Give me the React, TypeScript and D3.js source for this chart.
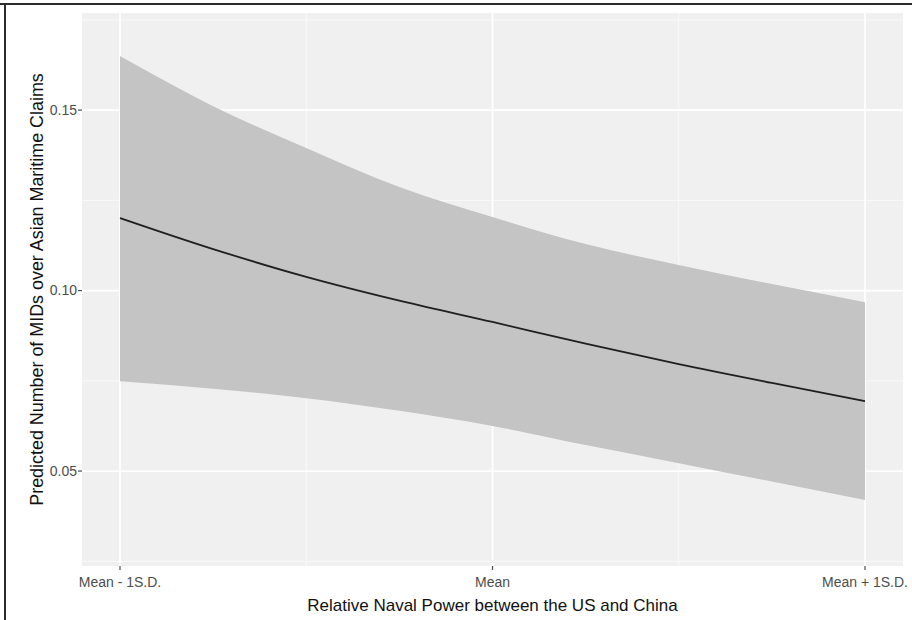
import React from "react";
import * as d3 from "d3";

// Relative naval power, in standard deviations from the mean
const xValues = [-1, -0.75, -0.5, -0.25, 0, 0.25, 0.5, 0.75, 1];
// Predicted number of MIDs and its confidence band
const fitValues = [0.1201, 0.1115, 0.1038, 0.0972, 0.0913, 0.0853, 0.0796, 0.0744, 0.0694];
const upperValues = [0.165, 0.1511, 0.1395, 0.1287, 0.1204, 0.1129, 0.1071, 0.1018, 0.0968];
const lowerValues = [0.0749, 0.0728, 0.0702, 0.0667, 0.0625, 0.0572, 0.0522, 0.0471, 0.042];

const xTickValues = [-1, 0, 1];
const xTickLabels = ["Mean - 1S.D.", "Mean", "Mean + 1S.D."];
const xMinorValues = [-0.5, 0.5];
const yTickValues = [0.05, 0.1, 0.15];
const yTickLabels = ["0.05", "0.10", "0.15"];
const yMinorValues = [0.025, 0.075, 0.125, 0.175];

const xTitle = "Relative Naval Power between the US and China";
const yTitle = "Predicted Number of MIDs over Asian Maritime Claims";

const W = 912;
const H = 620;
const panel = { left: 82, right: 903, top: 13, bottom: 566 };
const FONT = "'Liberation Sans', Arial, sans-serif";

export default function App() {
  const x = d3.scaleLinear().domain([-1.102, 1.102]).range([panel.left, panel.right]);
  const y = d3.scaleLinear().domain([0.0237, 0.1769]).range([panel.bottom, panel.top]);

  const rows = xValues.map((v, i) => ({
    x: v,
    fit: fitValues[i],
    lo: lowerValues[i],
    hi: upperValues[i],
  }));

  const band = d3
    .area<(typeof rows)[number]>()
    .x((d) => x(d.x))
    .y0((d) => y(d.lo))
    .y1((d) => y(d.hi))
    .curve(d3.curveMonotoneX);
  const line = d3
    .line<(typeof rows)[number]>()
    .x((d) => x(d.x))
    .y((d) => y(d.fit))
    .curve(d3.curveMonotoneX);

  const pw = panel.right - panel.left;
  const ph = panel.bottom - panel.top;

  return (
    <svg
      width={W}
      height={H}
      style={{ position: "absolute", left: 0, top: 0, background: "#ffffff" }}
      fontFamily={FONT}
    >
      {/* frame */}
      <line x1={0} x2={W} y1={4} y2={4} stroke="#2b2b2b" strokeWidth={2} />
      <line x1={5} x2={5} y1={3} y2={H} stroke="#2b2b2b" strokeWidth={2} />

      {/* panel */}
      <rect x={panel.left} y={panel.top} width={pw} height={ph} fill="#f0f0f0" />
      <g stroke="#fafafa">
        {yMinorValues.map((v) => (
          <line key={"ym" + v} x1={panel.left} x2={panel.right} y1={y(v)} y2={y(v)} strokeWidth={0.9} />
        ))}
        {xMinorValues.map((v) => (
          <line key={"xm" + v} x1={x(v)} x2={x(v)} y1={panel.top} y2={panel.bottom} strokeWidth={0.9} />
        ))}
      </g>
      <g stroke="#ffffff">
        {yTickValues.map((v) => (
          <line key={"yg" + v} x1={panel.left} x2={panel.right} y1={y(v)} y2={y(v)} strokeWidth={1.7} />
        ))}
        {xTickValues.map((v) => (
          <line key={"xg" + v} x1={x(v)} x2={x(v)} y1={panel.top} y2={panel.bottom} strokeWidth={1.7} />
        ))}
      </g>

      {/* confidence band and fitted line */}
      <path d={band(rows) ?? ""} fill="#c4c4c4" />
      <path d={line(rows) ?? ""} fill="none" stroke="#1f1f1f" strokeWidth={1.8} />

      {/* y axis */}
      {yTickValues.map((v, i) => (
        <g key={"yt" + v}>
          <line x1={panel.left - 4} x2={panel.left} y1={y(v)} y2={y(v)} stroke="#4d4d4d" strokeWidth={1.2} />
          <text
            x={panel.left - 5}
            y={y(v)}
            dy="0.35em"
            textAnchor="end"
            fontSize={14}
            fill="#4d4d4d"
          >
            {yTickLabels[i]}
          </text>
        </g>
      ))}

      {/* x axis */}
      {xTickValues.map((v, i) => (
        <g key={"xt" + v}>
          <line x1={x(v)} x2={x(v)} y1={panel.bottom} y2={panel.bottom + 4} stroke="#4d4d4d" strokeWidth={1.2} />
          <text x={x(v)} y={panel.bottom + 21} textAnchor="middle" fontSize={14} fill="#4d4d4d">
            {xTickLabels[i]}
          </text>
        </g>
      ))}

      {/* axis titles */}
      <text
        x={(panel.left + panel.right) / 2}
        y={611}
        textAnchor="middle"
        fontSize={17}
        fill="#111111"
      >
        {xTitle}
      </text>
      <text
        transform={`translate(43, ${(panel.top + panel.bottom) / 2}) rotate(-90)`}
        textAnchor="middle"
        fontSize={17.9}
        fill="#111111"
      >
        {yTitle}
      </text>
    </svg>
  );
}
